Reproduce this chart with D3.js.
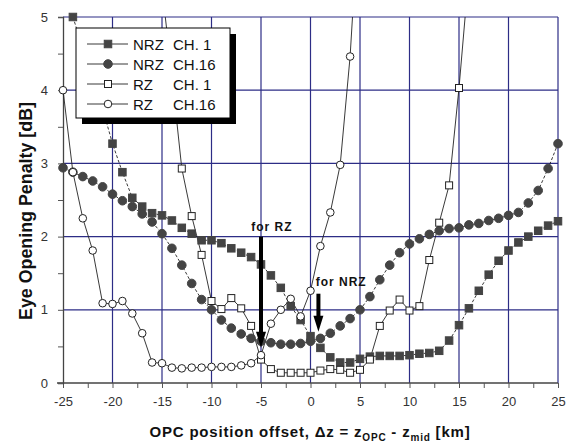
<!DOCTYPE html>
<html lang="en">
<head>
<meta charset="UTF-8">
<script src="https://d3js.org/d3.v7.min.js"></script>
<style>
  body { margin: 0; background: #fff; }
  text { font-family: Arial, "Liberation Sans", sans-serif; }
</style>
</head>
<body>
<div id="chart"></div>
<script>
// offset positions in km
const offsets = d3.range(-25, 26);

// eye opening penalty [dB], null = no point
const nrzCh1 = [null, 5.0, 4.58, 4.17, 3.75, 3.27, 2.88, 2.53, 2.41, 2.32, 2.29, 2.22, 2.12, 2.04, 1.95, 1.95,
  1.91, 1.84, 1.78, 1.72, 1.62, 1.47, 1.30, 1.05, 0.86, 0.64, 0.48, 0.35, 0.28, 0.28, 0.33, 0.36, 0.37, 0.37,
  0.37, 0.38, 0.40, 0.41, 0.44, 0.58, 0.79, 1.02, 1.26, 1.48, 1.67, 1.81, 1.92, 2.00, 2.08, 2.15, 2.21];
const nrzCh16 = [2.94, 2.88, 2.82, 2.76, 2.68, 2.58, 2.49, 2.41, 2.31, 2.20, 2.04, 1.84, 1.61, 1.36, 1.14, 1.00,
  0.86, 0.75, 0.67, 0.61, 0.57, 0.55, 0.53, 0.53, 0.54, 0.57, 0.61, 0.68, 0.78, 0.88, 1.00, 1.18, 1.41, 1.61,
  1.78, 1.90, 1.97, 2.03, 2.08, 2.11, 2.12, 2.16, 2.18, 2.22, 2.25, 2.29, 2.33, 2.46, 2.63, 2.93, 3.27];
const rzCh1 = [null, null, null, null, null, null, null, null, null, null, 5.4, 4.2, 2.93, 2.28, 1.75, 1.12,
  1.01, 1.16, 1.02, 0.78, 0.32, 0.19, 0.14, 0.14, 0.14, 0.14, 0.17, 0.19, 0.18, 0.14, 0.18, 0.32, 0.78, 0.99,
  1.14, 0.99, 1.05, 1.68, 2.19, 2.70, 4.03, 5.6, null, null, null, null, null, null, null, null, null];
const rzCh16 = [4.0, 2.88, 2.25, 1.81, 1.09, 1.08, 1.12, 0.95, 0.68, 0.28, 0.27, 0.21, 0.20, 0.21, 0.21, 0.22,
  0.22, 0.22, 0.24, 0.27, 0.38, 0.81, 1.00, 1.15, 0.91, 1.26, 1.87, 2.33, 2.98, 4.46, 6.7, null, null, null,
  null, null, null, null, null, null, null, null, null, null, null, null, null, null, null, null, null];

const seriesNames = ["NRZ", "NRZ", "RZ", "RZ"];
const channelNames = ["CH. 1", "CH.16", "CH. 1", "CH.16"];
const markerTypes = ["filledSquare", "filledCircle", "openSquare", "openCircle"];

const xTicks = d3.range(-25, 25.1, 2.5);
const yTicks = d3.range(0, 5.01, 0.5);

const arrows = [
  { label: "for RZ", x: -5, yFrom: 2.0, yTo: 0.48, lx: -3.9, ly: 2.08 },
  { label: "for NRZ", x: 0.8, yFrom: 1.22, yTo: 0.70, lx: 3.1, ly: 1.33 }
];

const svgWidth = 574, svgHeight = 444,
  margin = { top: 17, right: 16, bottom: 61, left: 63 },
  width = svgWidth - margin.left - margin.right,
  height = svgHeight - margin.top - margin.bottom;

const svg = d3.select('#chart').append('svg')
  .attr('width', svgWidth)
  .attr('height', svgHeight)
  .style('display', 'block');

const g = svg.append('g')
  .attr('transform', 'translate(' + margin.left + ',' + margin.top + ')');

const x = d3.scaleLinear().domain([-25, 25]).range([0, width]);
const y = d3.scaleLinear().domain([0, 5]).range([height, 0]);

const gridColor = '#2d2d86';

// grid
g.append('g').selectAll('line').data(d3.range(-20, 26, 5)).enter().append('line')
  .attr('x1', d => x(d)).attr('x2', d => x(d))
  .attr('y1', 0).attr('y2', height)
  .attr('stroke', gridColor).attr('stroke-width', 1.2);
g.append('g').selectAll('line').data(d3.range(1, 6)).enter().append('line')
  .attr('x1', 0).attr('x2', width)
  .attr('y1', d => y(d)).attr('y2', d => y(d))
  .attr('stroke', gridColor).attr('stroke-width', 1.2);

// axes
const xAxis = g.append('g')
  .attr('transform', 'translate(0,' + height + ')')
  .call(d3.axisBottom(x).tickValues(xTicks).tickSize(5).tickPadding(9)
    .tickFormat(d => d % 5 === 0 ? String(d) : ''));
const yAxis = g.append('g')
  .call(d3.axisLeft(y).tickValues(yTicks).tickSize(5).tickPadding(10)
    .tickFormat(d => d % 1 === 0 ? String(d) : ''));

[xAxis, yAxis].forEach(a => {
  a.select('.domain').attr('stroke', '#444').attr('stroke-width', 1.3);
  a.selectAll('.tick line').attr('stroke', '#555');
  a.selectAll('.tick text').attr('fill', '#333').style('font-size', '13px')
    .attr('font-family', 'Arial, "Liberation Sans", sans-serif');
});
xAxis.select('.domain').attr('d', 'M-6,0H' + width);

// curves
g.append('clipPath').attr('id', 'plotClip')
  .append('rect').attr('width', width).attr('height', height);

const allSeries = [nrzCh1, nrzCh16, rzCh1, rzCh16];
const dashes = ['3,2', '3,2', null, null];
const line = d3.line()
  .defined(d => d[1] !== null)
  .x(d => x(d[0])).y(d => y(d[1]));

function drawMarker(sel, type, cx, cy) {
  if (type === 'filledSquare' || type === 'openSquare') {
    const s = type === 'filledSquare' ? 7.5 : 7;
    sel.append('rect')
      .attr('x', cx - s / 2).attr('y', cy - s / 2).attr('width', s).attr('height', s)
      .attr('fill', type === 'filledSquare' ? '#444' : '#fff')
      .attr('stroke', type === 'filledSquare' ? '#444' : '#222').attr('stroke-width', 1);
  } else {
    sel.append('circle')
      .attr('cx', cx).attr('cy', cy).attr('r', type === 'filledCircle' ? 4.3 : 3.8)
      .attr('fill', type === 'filledCircle' ? '#444' : '#fff')
      .attr('stroke', type === 'filledCircle' ? '#444' : '#222').attr('stroke-width', 1);
  }
}

allSeries.forEach((vals, i) => {
  const pts = offsets.map((o, k) => [o, vals[k]]);
  g.append('path')
    .datum(pts)
    .attr('clip-path', 'url(#plotClip)')
    .attr('fill', 'none')
    .attr('stroke', '#222')
    .attr('stroke-width', 0.9)
    .attr('stroke-dasharray', dashes[i])
    .attr('d', line);
});
allSeries.forEach((vals, i) => {
  const mg = g.append('g');
  offsets.forEach((o, k) => {
    const v = vals[k];
    if (v === null || v > 5.05) return;
    drawMarker(mg, markerTypes[i], x(o), y(v));
  });
});

// arrows
arrows.forEach(a => {
  const ax = x(a.x), y0 = y(a.yFrom), y1 = y(a.yTo);
  g.append('rect')
    .attr('x', ax - 2).attr('y', y0).attr('width', 4).attr('height', y1 - y0 - 14)
    .attr('fill', '#000');
  g.append('path')
    .attr('d', 'M' + (ax - 5) + ',' + (y1 - 16) + 'L' + (ax + 5) + ',' + (y1 - 16) + 'L' + ax + ',' + y1 + 'Z')
    .attr('fill', '#000');
  g.append('text')
    .attr('x', x(a.lx)).attr('y', y(a.ly))
    .attr('text-anchor', 'middle')
    .style('font-size', '12px').style('font-weight', 'bold').style('letter-spacing', '1px')
    .attr('fill', '#111')
    .text(a.label);
});

// legend
const legend = svg.append('g').attr('transform', 'translate(76,28)');
legend.append('rect').attr('x', 6).attr('y', 6).attr('width', 154).attr('height', 90).attr('fill', '#000');
legend.append('rect').attr('width', 154).attr('height', 90).attr('fill', '#fff')
  .attr('stroke', '#000').attr('stroke-width', 1);
markerTypes.forEach((t, i) => {
  const ly = 16 + i * 20;
  legend.append('line').attr('x1', 11).attr('x2', 52).attr('y1', ly).attr('y2', ly)
    .attr('stroke', '#222').attr('stroke-width', 0.9);
  drawMarker(legend, t, 32, ly);
  legend.append('text').attr('x', 57).attr('y', ly + 5.5)
    .style('font-size', '15px').attr('fill', '#111').text(seriesNames[i]);
  legend.append('text').attr('x', 97).attr('y', ly + 5.5)
    .style('font-size', '15px').attr('fill', '#111').text(channelNames[i]);
});

// axis titles
svg.append('text')
  .attr('transform', 'translate(32,211) rotate(-90)')
  .attr('text-anchor', 'middle')
  .attr('textLength', 218).attr('lengthAdjust', 'spacingAndGlyphs')
  .style('font-size', '18px').style('font-weight', 'bold')
  .attr('fill', '#111')
  .text('Eye Opening Penalty [dB]');

const xt = svg.append('text')
  .attr('x', 310).attr('y', 437)
  .attr('text-anchor', 'middle')
  .style('font-size', '15px').style('font-weight', 'bold').style('letter-spacing', '0.8px')
  .attr('fill', '#111');
xt.append('tspan').text('OPC position offset, \u0394z = z');
xt.append('tspan').attr('dy', 4).style('font-size', '10px').text('OPC');
xt.append('tspan').attr('dy', -4).text(' - z');
xt.append('tspan').attr('dy', 4).style('font-size', '10px').text('mid');
xt.append('tspan').attr('dy', -4).text(' [km]');
</script>
</body>
</html>
